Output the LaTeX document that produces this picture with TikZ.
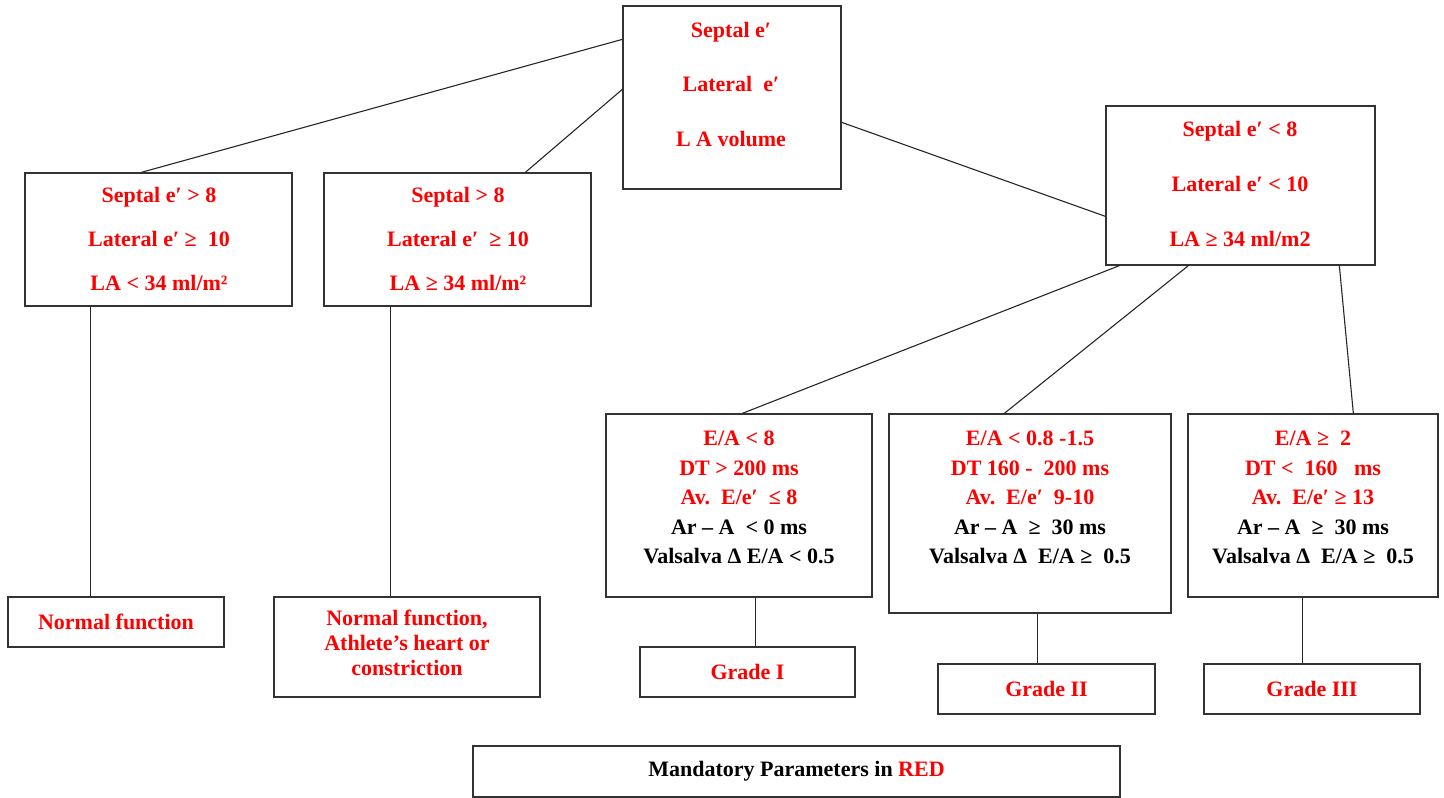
\documentclass[tikz,border=0pt]{standalone}
\usepackage{fontspec}
\setmainfont{Liberation Serif}
\tikzset{
  box/.style={draw=black!80, line width=1.3pt, rectangle, inner sep=0pt, fill=none},
  conn/.style={draw=black!85, line width=1.1pt},
  txt/.style={align=center, inner sep=0pt, anchor=north, text=red},
  lbl/.style={text=red, font=\fontsize{22}{25}\selectfont\bfseries},
}
\newcommand{\fsz}[1]{\fontsize{22}{#1}\selectfont\bfseries}
\begin{document}
\begin{tikzpicture}[x=1pt,y=-1pt]
\useasboundingbox (0,0) rectangle (1444,798);
% boxes
\node[box, minimum width=218pt, minimum height=183pt] (top) at (732,97.5) {};
\node[box, minimum width=267pt, minimum height=133pt] (L1) at (158.5,239.5) {};
\node[box, minimum width=267pt, minimum height=133pt] (L2) at (457.5,239.5) {};
\node[box, minimum width=269pt, minimum height=159pt] (R) at (1240.5,185.5) {};
\node[box, minimum width=266pt, minimum height=183pt] (P1) at (739,505.5) {};
\node[box, minimum width=282pt, minimum height=199pt] (P2) at (1030,513.5) {};
\node[box, minimum width=250pt, minimum height=183pt] (P3) at (1313,505.5) {};
\node[box, lbl, minimum width=216pt, minimum height=50pt] (NF) at (116,622) {Normal function};
\node[box, minimum width=266pt, minimum height=100pt] (ATH) at (407,647) {};
\node[box, lbl, minimum width=215pt, minimum height=50pt] (G1) at (747.5,672) {Grade I};
\node[box, lbl, minimum width=217pt, minimum height=50pt] (G2) at (1046.5,689) {Grade II};
\node[box, lbl, minimum width=216pt, minimum height=50pt] (G3) at (1312,689) {Grade III};
\node[box, minimum width=647pt, minimum height=51pt, font=\fontsize{22}{25}\selectfont\bfseries] (MAND) at (796.5,771.5) {Mandatory Parameters in {\color{red}RED}};
% texts
\node[txt, font=\fsz{54.5}] (topt) at (731,22) {Septal e′\\Lateral\ \ e′\\L A volume};
\node[txt, font=\fsz{44}] (L1t) at (159,187) {Septal e′ > 8\\Lateral e′ ≥\ \ 10\\LA < 34 ml/m²};
\node[txt, font=\fsz{44}] (L2t) at (458,187) {Septal > 8\\Lateral e′\ \ ≥ 10\\LA ≥ 34 ml/m²};
\node[txt, font=\fsz{55}] (Rt) at (1240,121) {Septal e′ < 8\\Lateral e′ < 10\\LA ≥ 34 ml/m2};
\node[txt, font=\fsz{29.5}] (P1t) at (739,431) {E/A < 8\\DT > 200 ms\\Av.\ \ E/e′\ \ ≤ 8\\{\color{black}Ar – A\ \ < 0 ms}\\{\color{black}Valsalva Δ E/A < 0.5}};
\node[txt, font=\fsz{29.5}] (P2t) at (1030,431) {E/A < 0.8 -1.5\\DT 160 -\ \ 200 ms\\Av.\ \ E/e′\ \ 9-10\\{\color{black}Ar – A\ \ ≥\ \ 30 ms}\\{\color{black}Valsalva Δ\ \ E/A ≥\ \ 0.5}};
\node[txt, font=\fsz{29.5}] (P3t) at (1313,431) {E/A ≥\ \ 2\\DT <\ \ 160\ \ \ ms\\Av.\ \ E/e′ ≥ 13\\{\color{black}Ar – A\ \ ≥\ \ 30 ms}\\{\color{black}Valsalva Δ\ \ E/A ≥\ \ 0.5}};
\node[txt, font=\fsz{25}] (ATHt) at (407,610) {Normal function,\\Athlete’s heart or\\constriction};
% connectors
\draw[conn] ([yshift=-34pt]top.north west) -- ([xshift=117pt]L1.north west);
\draw[conn] ([yshift=-84pt]top.north west) -- ([xshift=202pt]L2.north west);
\draw[conn] ([yshift=-117pt]top.north east) -- ([yshift=-111pt]R.north west);
\draw[conn] ([xshift=14pt]R.south west) -- ([xshift=137pt]P1.north west);
\draw[conn] ([xshift=83pt]R.south west) -- ([xshift=116pt]P2.north west);
\draw[conn] ([xshift=234pt]R.south west) -- ([xshift=166pt]P3.north west);
\draw[conn] ([xshift=83.5pt]NF.north west) -- ([xshift=83.5pt]NF.north west |- L1.south);
\draw[conn] ([xshift=117pt]ATH.north west) -- ([xshift=117pt]ATH.north west |- L2.south);
\draw[conn] ([xshift=116pt]G1.north west) -- ([xshift=116pt]G1.north west |- P1.south);
\draw[conn] ([xshift=100pt]G2.north west) -- ([xshift=100pt]G2.north west |- P2.south);
\draw[conn] ([xshift=99pt]G3.north west) -- ([xshift=99pt]G3.north west |- P3.south);
\end{tikzpicture}
\end{document}
